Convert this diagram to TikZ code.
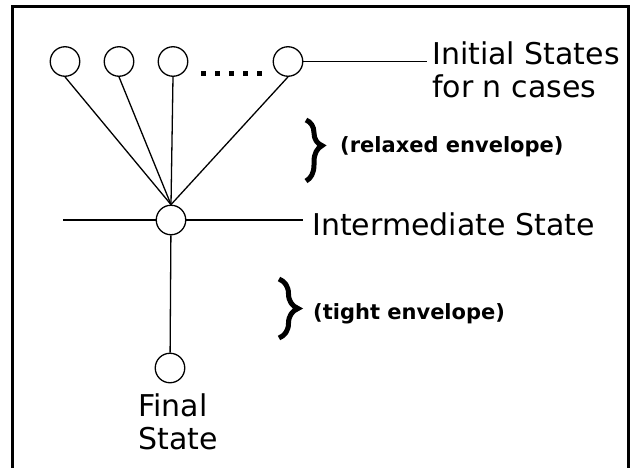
\documentclass[tikz,border=0pt]{standalone}
\usepackage{fontspec}
\setmainfont{DejaVu Sans}
\usetikzlibrary{positioning,decorations.pathreplacing}

\begin{document}
\begin{tikzpicture}[
    x=1pt, y=-1pt,
    state/.style={circle, draw, line width=1.3pt, minimum size=29.5pt, inner sep=0pt},
    link/.style={line width=1.3pt},
    lbl/.style={font=\fontsize{30}{33}\selectfont, inner sep=0pt},
    note/.style={font=\fontsize{21}{24}\selectfont\bfseries, inner sep=0pt},
    envbrace/.style={decorate, line width=5pt}
]
    \useasboundingbox (0,0) rectangle (632,468);
    \begin{scope}
        \clip (0,0) rectangle (632,468);
        \draw[line width=3pt] (12.5,6.5) rectangle (628.5,490);
    \end{scope}

    % initial states
    \node[state] (init1) at (65,61.5) {};
    \node[state] (init2) at (119,61.5) {};
    \node[state] (init3) at (173,61.5) {};
    \node[state] (init4) at (288,61.5) {};
    \foreach \i in {0,...,4}
        \fill (201+14*\i,71.5) rectangle ++(5,5);

    \node[state] (mid) at (171,220) {};
    \node[state] (fin) at (170,368) {};
    \coordinate (midleft) at (63,220);

    % labels
    \node[lbl, align=left, anchor=north west] (initlbl) at (432,42) {Initial States\\for n cases};
    \node[lbl, anchor=base west] (midlbl) at (312,235) {Intermediate State};
    \node[lbl, align=left, below=10pt of fin, xshift=8pt] (finlbl) {Final\\State};

    \node[note, anchor=west] (relaxed) at (340,147) {(relaxed envelope)};
    \node[note, anchor=west] (tight) at (313,314) {(tight envelope)};

    % links
    \foreach \k in {1,...,4}
        \draw[link] (init\k.south) -- (mid.north);
    \draw[link, shorten >=5pt] (init4) -- (init4 -| initlbl.west);
    \draw[link] (midleft) -- (mid);
    \draw[link, shorten >=9pt] (mid) -- (mid -| midlbl.west);
    \draw[link] (mid) -- (fin);

    % envelopes
    \draw[envbrace, decoration={brace, amplitude=16pt, aspect=0.42}] (306,120) -- (306,181);
    \draw[envbrace, decoration={brace, amplitude=19pt}] (279,279) -- (279,338);
\end{tikzpicture}
\end{document}
